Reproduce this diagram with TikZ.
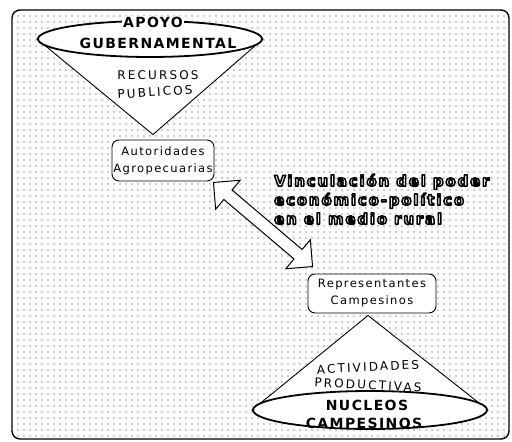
\documentclass[tikz,border=0pt]{standalone}
\usepackage{fontspec}
\setmainfont{DejaVu Sans}
\newfontfamily\lblfont{DejaVu Sans}[LetterSpace=12]
\newfontfamily\capfont{DejaVu Sans}[LetterSpace=18]
\newfontfamily\heavyfont{DejaVu Sans Bold}[LetterSpace=10]
\newfontfamily\outlinefont{DejaVu Sans Bold}[LetterSpace=12]
\usetikzlibrary{calc,patterns.meta,shapes.geometric,backgrounds}

% hollow lettering: white fill, black stroke (PDF text render mode 2)
\newcommand{\hollowtext}[1]{%
  {\color{white}\special{pdf:literal direct 2 Tr 1.5 w 0 G 1 j}#1\special{pdf:literal direct 0 Tr}}}

\tikzset{
  x=1pt, y=-1pt,
  framebox/.style={line width=1.4pt, rounded corners=8pt},
  dotfill/.style={pattern={Dots[radius=0.7pt, distance=6pt]}, pattern color=black!85},
  groupell/.style={ellipse, draw, fill=white, line width=1.8pt, inner sep=0pt},
  fan/.style={draw, fill=white, line width=0.9pt},
  stagebox/.style={draw, fill=white, rounded corners=7pt, line width=0.9pt,
    inner sep=1pt, align=center, font=\lblfont\fontsize{11.5}{17}\selectfont},
  flowtxt/.style={inner sep=1pt, align=center, font=\capfont\fontsize{12}{14}\selectfont},
  headtxt/.style={inner sep=1pt, align=center, font=\heavyfont\fontsize{14}{16}\selectfont},
  linktxt/.style={inner sep=0pt, align=left,
    font=\outlinefont\fontsize{15}{19}\selectfont},
  hollowarrow/.style={draw, fill=white, line width=1pt, line join=miter}
}

\begin{document}
\begin{tikzpicture}
\useasboundingbox (0,0) rectangle (512,442);

% the two stages of the chain
\node[stagebox, minimum width=102pt, minimum height=41pt] (autor) at (163,160.5)
  {Autoridades\\Agropecuarias};
\node[stagebox, minimum width=128pt, minimum height=39pt] (rep) at (372,293.5)
  {Representantes\\Campesinos};

% the two groups at the ends
\node[groupell, minimum width=224pt, minimum height=36pt] (gob) at (150,39) {};
\node[groupell, minimum width=234pt, minimum height=38pt] (nuc) at (370,410) {};

\begin{pgfonlayer}{background}
  % dotted sheet
  \draw[framebox, fill=white] (12,10) rectangle (509,439);
  \fill[dotfill, rounded corners=8pt] (13,11) rectangle (508,438);
  % funnels between groups and stages
  \path[fan] (gob.west) -- ($(autor.north)+(-10,-5)$) -- (gob.east) -- cycle;
  \path[fan] (nuc.west) -- ($(rep.south)+(-4,2)$) -- (nuc.east) -- cycle;
\end{pgfonlayer}

% group labels
\node[headtxt, fill=white] (apoyo) at (153,22) {APOYO};
\node[headtxt] (guber) at (158,43) {GUBERNAMENTAL};
\node[headtxt] (nucl) at (367,405) {NUCLEOS};
\node[headtxt] (camp) at (364,423) {CAMPESINOS};

% flow labels
\node[flowtxt] (recursos) at (158,75) {RECURSOS};
\node[flowtxt, rotate=4] (publicos) at (155,92) {PUBLICOS};
\node[flowtxt, rotate=3] (activ) at (368,367) {ACTIVIDADES};
\node[flowtxt, rotate=-3] (prod) at (368,385) {PRODUCTIVAS};

% two-way hollow arrow between the stages
\coordinate (ta) at ($(autor.south east)+(-1,1)$);
\coordinate (tb) at ($(rep.north west)+(5,-7)$);
\coordinate (pa) at ($(ta)!19pt!(tb)$);
\coordinate (pb) at ($(tb)!19pt!(ta)$);
\draw[hollowarrow] (ta)
  -- ($(pa)!19pt!90:(tb)$) -- ($(pa)!6.25pt!90:(tb)$)
  -- ($(pb)!6.25pt!90:(tb)$) -- ($(pb)!19pt!90:(tb)$)
  -- (tb)
  -- ($(pb)!19pt!-90:(tb)$) -- ($(pb)!6.25pt!-90:(tb)$)
  -- ($(pa)!6.25pt!-90:(tb)$) -- ($(pa)!19pt!-90:(tb)$)
  -- cycle;

% outlined caption of the link
\node[linktxt, anchor=north west] (link) at (274,174)
  {\hollowtext{Vinculación del poder}\\
   \hollowtext{económico-político}\\
   \hollowtext{en el medio rural}};
\end{tikzpicture}
\end{document}
